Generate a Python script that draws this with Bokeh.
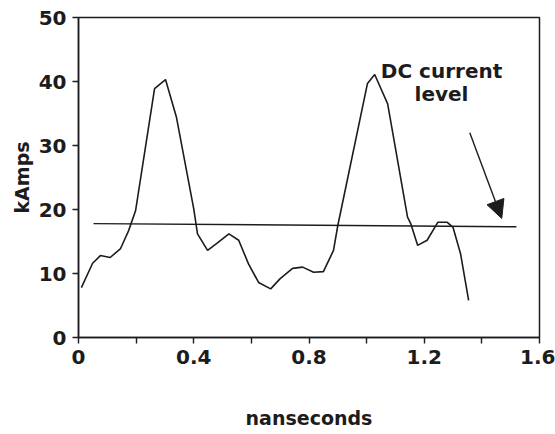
from bokeh.plotting import figure
from bokeh.models import Range1d, FixedTicker, Arrow, NormalHead
from bokeh.core.properties import value
from bokeh.embed import file_html
from bokeh.resources import INLINE

# ---- data ----
t_ns = [0.01, 0.049, 0.076, 0.11, 0.146, 0.174, 0.198, 0.264, 0.302, 0.34,
        0.40, 0.413, 0.448, 0.48, 0.522, 0.556, 0.59, 0.625, 0.667, 0.70,
        0.743, 0.778, 0.816, 0.85, 0.885, 0.90, 1.003, 1.028, 1.073, 1.142,
        1.153, 1.177, 1.21, 1.247, 1.28, 1.30, 1.326, 1.354]
current_kA = [7.8, 11.6, 12.8, 12.5, 13.9, 16.7, 19.8, 38.9, 40.3, 34.4,
              20.1, 16.2, 13.6, 14.7, 16.2, 15.2, 11.5, 8.6, 7.6, 9.2,
              10.8, 11.0, 10.2, 10.3, 13.6, 17.5, 39.7, 41.1, 36.5, 18.8,
              17.8, 14.4, 15.2, 18.0, 18.0, 17.2, 13.1, 5.8]

dc_x = [0.052, 1.52]
dc_y = [17.8, 17.3]

x_major = [0, 0.4, 0.8, 1.2, 1.6]
x_minor = [0.2, 0.6, 1.0, 1.4]
x_labels = ["0", "0.4", "0.8", "1.2", "1.6"]
y_major = [0, 10, 20, 30, 40, 50]

note_lines = ["DC current", "level"]
note_x = [1.26, 1.26]
note_y = [41.7, 38.0]
arrow_start = (1.358, 32.0)
arrow_end = (1.469, 18.6)

FONT = "DejaVu Sans"
INK = "#1c1c1c"

p = figure(width=555, height=434, output_backend="svg", toolbar_location=None,
           x_range=Range1d(0, 1.6), y_range=Range1d(0, 50),
           min_border_left=78, min_border_right=16, min_border_top=17,
           min_border_bottom=97)
p.background_fill_color = "white"
p.border_fill_color = "white"
p.outline_line_color = INK
p.outline_line_width = 1.5
p.xgrid.visible = False
p.ygrid.visible = False

p.line(t_ns, current_kA, line_color=INK, line_width=1.6)
p.line(dc_x, dc_y, line_color=INK, line_width=1.4)

p.text(x=note_x, y=note_y, text=note_lines, text_font=value(FONT),
       text_font_style="bold", text_font_size="20px", text_color=INK,
       text_align="center", text_baseline="middle")

p.add_layout(Arrow(end=NormalHead(size=18, fill_color=INK, line_color=INK),
                   x_start=arrow_start[0], y_start=arrow_start[1],
                   x_end=arrow_end[0], y_end=arrow_end[1],
                   line_color=INK, line_width=1.4))

xa = p.xaxis[0]
xa.ticker = FixedTicker(ticks=x_major, minor_ticks=x_minor)
xa.major_label_overrides = {v: s for v, s in zip(x_major, x_labels)}
xa.major_tick_in = 0
xa.major_tick_out = 6
xa.minor_tick_in = 0
xa.minor_tick_out = 6
xa.major_label_standoff = 6
xa.axis_label = "nanseconds"
xa.axis_label_standoff = 40

ya = p.yaxis[0]
ya.ticker = FixedTicker(ticks=y_major, minor_ticks=[])
ya.major_tick_in = 0
ya.major_tick_out = 6
ya.major_label_standoff = 6
ya.axis_label = "kAmps"
ya.axis_label_standoff = 3

for ax in (xa, ya):
    ax.axis_line_color = INK
    ax.axis_line_width = 1.5
    ax.major_tick_line_color = INK
    ax.major_tick_line_width = 1.4
    ax.minor_tick_line_color = INK if ax is xa else None
    ax.minor_tick_line_width = 1.4
    ax.major_label_text_font = FONT
    ax.major_label_text_font_style = "bold"
    ax.major_label_text_font_size = "20px"
    ax.major_label_text_color = INK
    ax.axis_label_text_font = FONT
    ax.axis_label_text_font_style = "bold"
    ax.axis_label_text_font_size = "19px"
    ax.axis_label_text_color = INK

open("out.html", "w").write(file_html(p, INLINE))
